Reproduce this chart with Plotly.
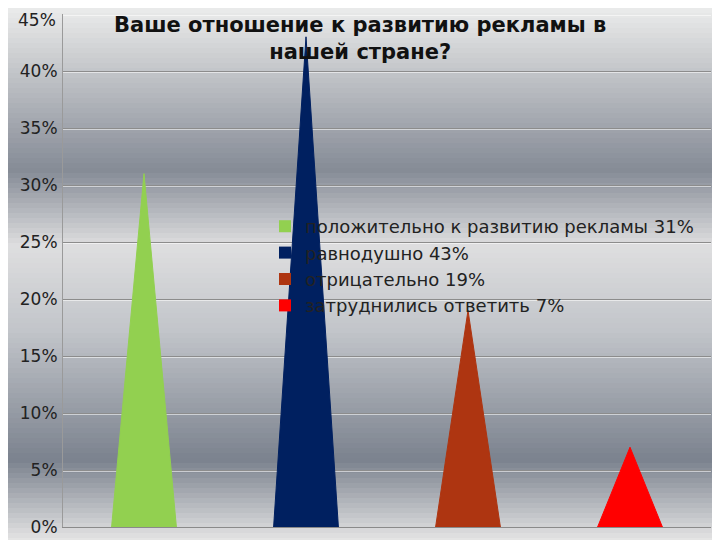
import plotly.graph_objects as go

# survey answers
categories = [
    "положительно к развитию рекламы 31%",
    "равнодушно 43%",
    "отрицательно 19%",
    "затруднились ответить 7%",
]
values = [31, 43, 19, 7]
colors = ["#92d050", "#002060", "#ae3511", "#ff0000"]
tick_values = [0, 5, 10, 15, 20, 25, 30, 35, 40, 45]
tick_labels = [f"{v}%" for v in tick_values]

title = "Ваше отношение к развитию рекламы в<br>нашей стране?"

W, H = 720, 540
OFF = 8  # the page body adds an 8px margin, so everything is placed 8px up/left


def px_x(x):
    return (x - OFF) / W


def px_y(y):
    return 1 - (y - OFF) / H


# background gradient stops: (screen y in px, rgb)
bg_stops = [
    (0, (240, 240, 240)),
    (60, (202, 204, 207)),
    (170, (133, 139, 150)),
    (246, (222, 222, 223)),
    (330, (194, 197, 202)),
    (460, (123, 130, 142)),
    (540, (228, 228, 228)),
]


def bg_color(y):
    for (y0, c0), (y1, c1) in zip(bg_stops, bg_stops[1:]):
        if y0 <= y <= y1:
            f = (y - y0) / (y1 - y0)
            return "rgb(%d,%d,%d)" % tuple(round(a + (b - a) * f) for a, b in zip(c0, c1))
    return "rgb(%d,%d,%d)" % bg_stops[-1][1]


shapes = []
band = 5
for y in range(OFF, 540, band):
    shapes.append(dict(
        type="rect", xref="paper", yref="paper", layer="below",
        x0=0, x1=1, y0=px_y(y + band + 0.5), y1=px_y(y),
        fillcolor=bg_color(y + band / 2), line=dict(width=0),
    ))

half = 0.2
fig = go.Figure()
for i, (name, v, c) in enumerate(zip(categories, values, colors)):
    fig.add_trace(go.Scatter(
        x=[i - half, i, i + half, i - half],
        y=[0, v, 0, 0],
        mode="lines",
        fill="toself",
        fillcolor=c,
        line=dict(color=c, width=1),
        name=name,
        hoverinfo="name",
        showlegend=False,
    ))
    # legend entry with a square swatch
    fig.add_trace(go.Scatter(
        x=[None], y=[None], mode="markers", name=name,
        marker=dict(symbol="square", size=12, color=c),
    ))

# light highlight under each gridline
y_unit = 45 / (527 - 14)
fig.add_trace(go.Scatter(x=[None], y=[None], yaxis="y2", showlegend=False))

font = "DejaVu Sans"
fig.add_annotation(
    text=title, xref="paper", yref="paper", x=px_x(360), y=px_y(38),
    xanchor="center", yanchor="middle", showarrow=False,
    font=dict(family=font, size=21, color="#111111", weight="bold"),
)
# the top tick label would be clipped by the page edge, so it is drawn just inside
fig.add_annotation(
    text=tick_labels[-1], xref="paper", yref="paper", x=px_x(58), y=1,
    xanchor="right", yanchor="top", showarrow=False,
    font=dict(family=font, size=17, color="#222222"),
)
fig.update_layout(
    width=W,
    height=H,
    margin=dict(l=0, r=0, t=0, b=0, autoexpand=False),
    paper_bgcolor="rgba(0,0,0,0)",
    plot_bgcolor="rgba(0,0,0,0)",
    shapes=shapes,
    legend=dict(
        x=px_x(265), y=px_y(208), xanchor="left", yanchor="top",
        bgcolor="rgba(0,0,0,0)", font=dict(family=font, size=18, color="#222222"),
        itemwidth=30, tracegroupgap=0,
    ),
    xaxis=dict(
        domain=[px_x(63), px_x(711)], range=[-0.5, 3.5], automargin=False,
        showgrid=False, showticklabels=False, zeroline=False,
        showline=True, linecolor="#8a8a8a", linewidth=1,
    ),
    yaxis=dict(
        domain=[px_y(527), px_y(14)], range=[0, 45], automargin=False,
        tickvals=tick_values, ticktext=tick_labels[:-1] + [""],
        showgrid=True, gridcolor="#8c8c8c", gridwidth=1, zeroline=False,
        showline=True, linecolor="#9a9a9a", linewidth=1,
        tickfont=dict(family=font, size=17, color="#222222"), ticklabelstandoff=1,
    ),
    yaxis2=dict(
        overlaying="y", range=[1.5 * y_unit, 45 + 1.5 * y_unit], automargin=False,
        tickvals=tick_values[1:], showticklabels=False, showline=False, zeroline=False,
        showgrid=True, gridcolor="rgba(255,255,255,0.55)", gridwidth=1,
    ),
)

fig.write_html("out.html")
